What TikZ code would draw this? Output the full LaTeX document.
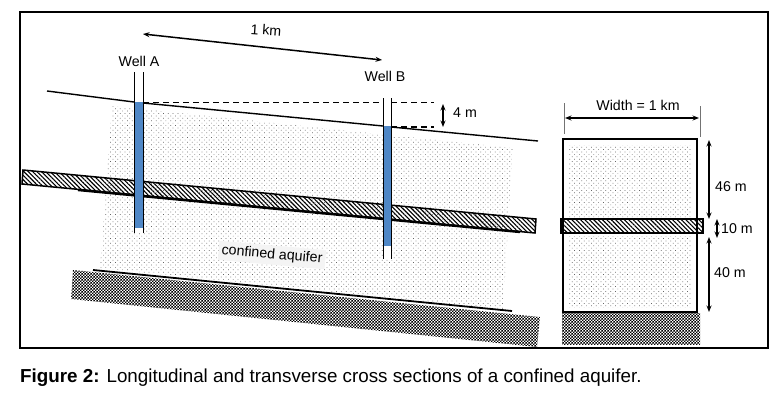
\documentclass[tikz,border=0pt]{standalone}
\usepackage{fontspec}
\setmainfont{Liberation Sans}
\usepackage{tikz}
\usetikzlibrary{patterns.meta}
\usetikzlibrary{arrows.meta}

\definecolor{wellblue}{HTML}{4F87C6}
\definecolor{labelback}{HTML}{F4F4F4}

\pgfdeclarepatternformonly{checkerfine}{\pgfqpoint{0pt}{0pt}}{\pgfqpoint{3.4pt}{3.4pt}}{\pgfqpoint{3.4pt}{3.4pt}}{
	\pgfpathrectangle{\pgfqpoint{0pt}{0pt}}{\pgfqpoint{1.7pt}{1.7pt}}
	\pgfpathrectangle{\pgfqpoint{1.7pt}{1.7pt}}{\pgfqpoint{1.7pt}{1.7pt}}
	\pgfusepath{fill}
}

\tikzset{
	sand/.style={pattern={Dots[radius=0.5pt,distance=3.4pt,angle=45]},pattern color=black!60},
	clay/.style={pattern={Lines[angle=-45,distance=3.1pt,line width=1.1pt]},pattern color=black,draw=black,line width=1.5pt},
	rock/.style={pattern=checkerfine,pattern color=black},
	pipe/.style={draw=black,line width=1pt},
	dim/.style={<->,>={Stealth[length=6.5pt,width=5pt]},line width=1.1pt},
	tick/.style={draw=black!55,line width=0.8pt},
	lbl/.style={font=\fontsize{14.2}{16}\selectfont,inner sep=1pt},
}

\begin{document}
\begin{tikzpicture}[x=1pt,y=-1pt]
				\useasboundingbox (0,0) rectangle (778,402);

				% longitudinal section
				\fill[sand] (112,106) -- (513,148) -- (503,309) -- (100,268) -- cycle;
				\path[clay] (23,170) -- (536,219) -- (535,233) -- (22,184) -- cycle;
				\draw[line width=2.4pt] (78,190) -- (520,232);
				\fill[rock] (73,270) -- (540,317) -- (537,347) -- (71,299) -- cycle;
				\draw[line width=1.8pt] (93,270) -- (512,311);

				\node[lbl,fill=labelback,rotate=-5,inner sep=3pt] (aquifer) at (272,255) {confined aquifer};

				% wells
				\fill[white] (134,72) rectangle (143,233);
				\fill[wellblue] (134,102) rectangle (143,228);
				\draw[pipe] (134,72) -- (134,233);
				\draw[pipe] (143,72) -- (143,233);
				\fill[white] (383,98) rectangle (391,259);
				\fill[wellblue] (383,126) rectangle (391,246);
				\draw[pipe] (383,98) -- (383,259);
				\draw[pipe] (391,98) -- (391,259);

				\node[lbl] (wella) at (139,61) {Well A};
				\node[lbl] (wellb) at (385,76) {Well B};

				% ground and heads
				\draw[line width=1.4pt] (47,91) -- (134,102);
				\draw[line width=1.4pt] (143,103) -- (300,118) -- (383,126);
				\draw[line width=1.4pt] (391,127) -- (538,141);
				\draw[dashed,dash pattern=on 6pt off 4pt,line width=1.1pt] (143,102.5) -- (383,102.5);
				\draw[dashed,dash pattern=on 6pt off 4pt,line width=1.1pt] (391,102.5) -- (434,102.5);
				\draw[dashed,dash pattern=on 6pt off 4pt,line width=1.1pt] (391,127) -- (434,127);

				\coordinate (heada) at (443,104);
				\coordinate (headb) at (443,127);
				\draw[dim] (heada) -- (headb);
				\node[lbl] (head) at (465,113) {4 m};

				\coordinate (kma) at (143,34);
				\coordinate (kmb) at (382,60);
				\draw[dim,line width=1.5pt] (kma) -- (kmb);
				\node[lbl,rotate=-4] (km) at (266,30) {1 km};

				% transverse section
				\draw[line width=1.2pt,fill=white] (563,139) rectangle (697,312);
				\fill[sand] (569,145) rectangle (691,219);
				\fill[sand] (569,236) rectangle (691,307);
				\path[clay] (561,219) rectangle (703,233);
				\fill[rock] (562,313) rectangle (700,344);

				\draw[tick] (564,103) -- (564,134);
				\draw[tick] (700,106) -- (700,137);
				\coordinate (wa) at (565,118);
				\coordinate (wb) at (699,118);
				\draw[dim] (wa) -- (wb);
				\node[lbl] (width) at (638,105) {Width = 1 km};

				\coordinate (ta) at (709,140);
				\coordinate (tb) at (709,219);
				\coordinate (ma) at (717,219);
				\coordinate (mb) at (717,238);
				\coordinate (ba) at (709,237);
				\coordinate (bb) at (709,312);
				\draw[dim] (ta) -- (tb);
				\draw[dim] (ma) -- (mb);
				\draw[dim] (ba) -- (bb);
				\node[lbl] (top) at (731,187) {46 m};
				\node[lbl] (mid) at (737,229) {10 m};
				\node[lbl] (bot) at (730,273) {40 m};

				% frame and caption
				\draw[line width=2.6pt] (20,12) rectangle (768,348);
				\node[anchor=west,inner sep=0pt,font=\fontsize{18.8}{21}\selectfont] (caption) at (20,378) {\textbf{Figure 2:} Longitudinal and transverse cross sections of a confined aquifer.};
\end{tikzpicture}
\end{document}
